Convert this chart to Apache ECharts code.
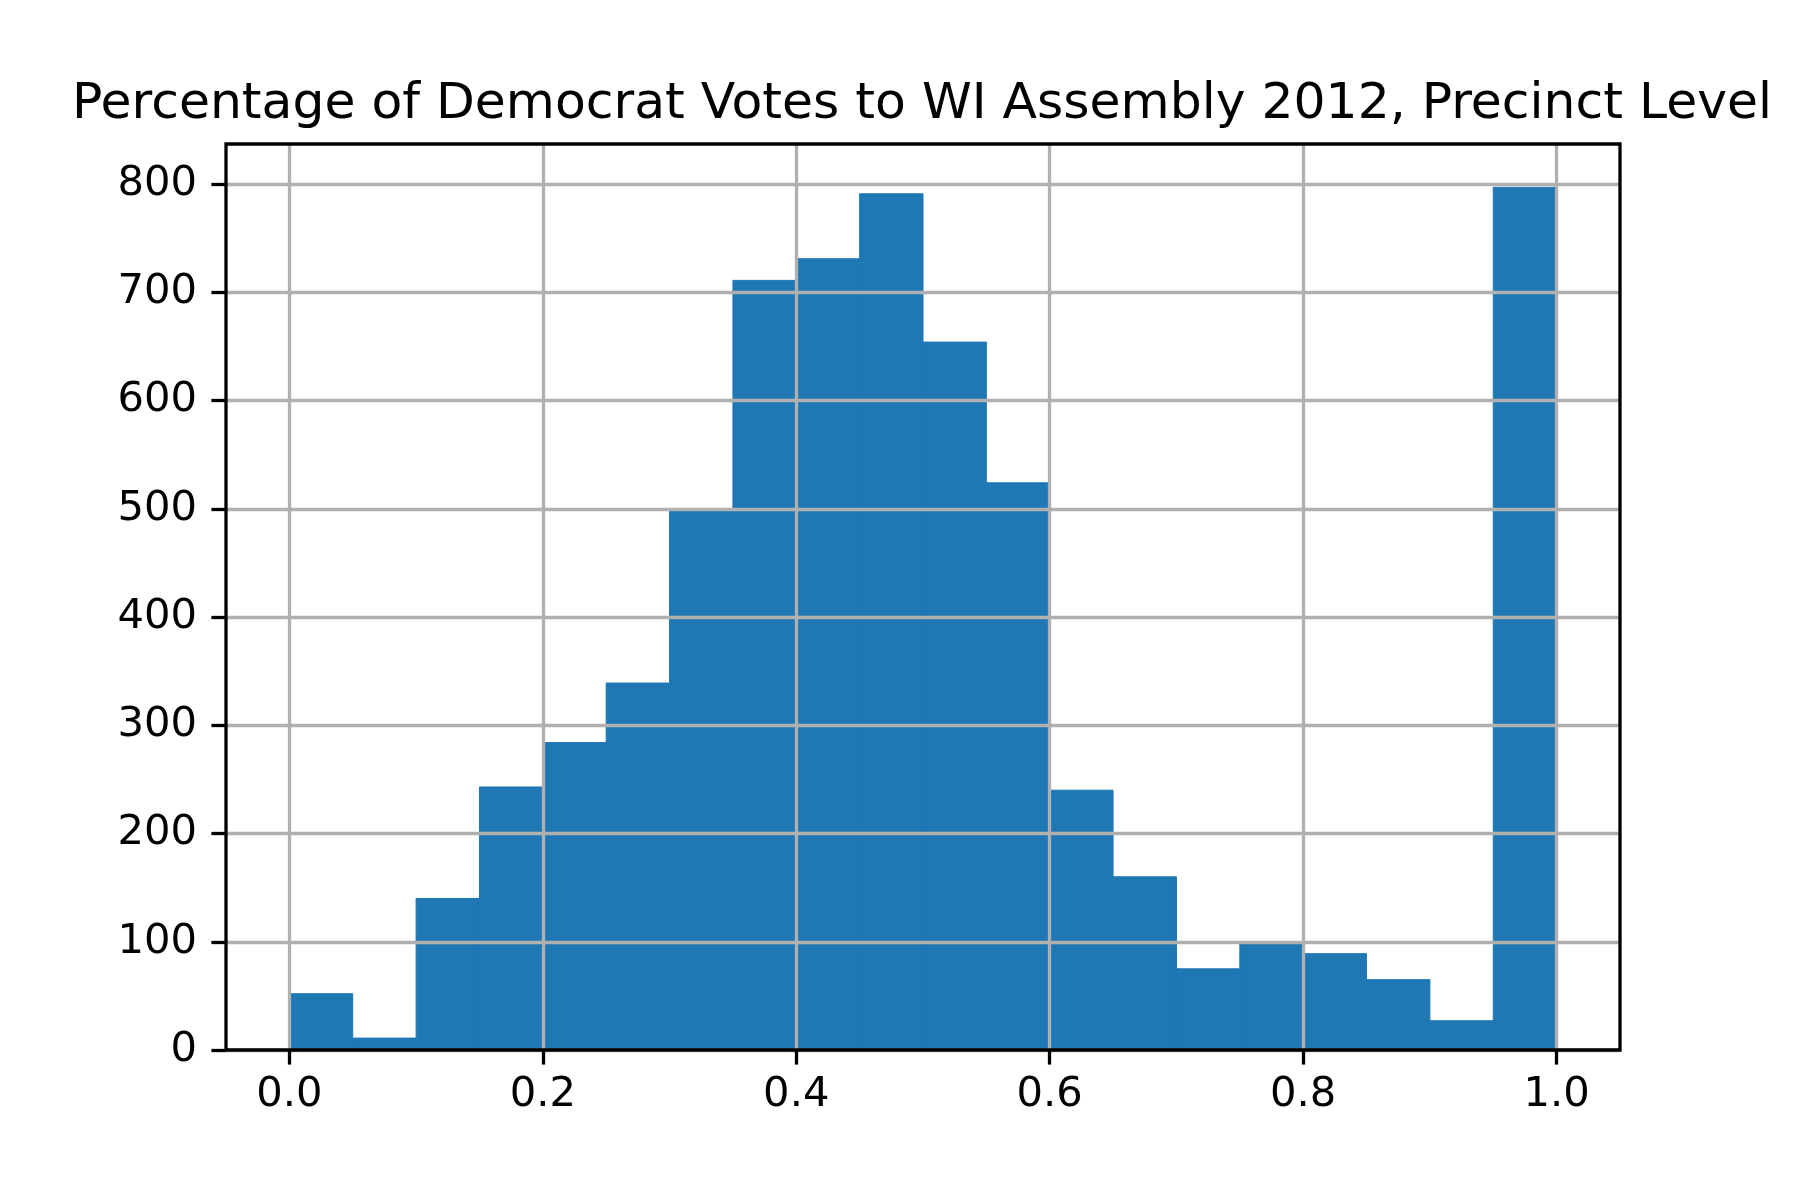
<!DOCTYPE html>
<html>
<head>
<meta charset="utf-8">
<title>Percentage of Democrat Votes to WI Assembly 2012, Precinct Level</title>
<script src="https://cdn.jsdelivr.net/npm/echarts@6/dist/echarts.min.js"></script>
<style>
  html, body { margin: 0; padding: 0; background: #fff; }
  #chart { width: 1800px; height: 1200px; }
</style>
</head>
<body>
<div id="chart"></div>
<script>
// histogram bins: 20 bins of width 0.05 from 0 to 1
var binEdges = [0.00, 0.05, 0.10, 0.15, 0.20, 0.25, 0.30, 0.35, 0.40, 0.45, 0.50,
                0.55, 0.60, 0.65, 0.70, 0.75, 0.80, 0.85, 0.90, 0.95, 1.00];
var counts = [52, 11, 140, 243, 284, 339, 499, 711, 731, 791,
              654, 524, 240, 160, 75, 98, 89, 65, 27, 797];
var xTicks = [0.0, 0.2, 0.4, 0.6, 0.8, 1.0];
var yTicks = [0, 100, 200, 300, 400, 500, 600, 700, 800];

var titleText = 'Percentage of Democrat Votes to WI Assembly 2012, Precinct Level';

var barData = [];
for (var i = 0; i < counts.length; i++) {
    barData.push([binEdges[i], binEdges[i + 1], counts[i]]);
}

var font = 'DejaVu Sans';
var chart = echarts.init(document.getElementById('chart'));

var option = {
    backgroundColor: '#ffffff',
    animation: false,
    title: {
        text: titleText,
        left: 917,
        top: 75,
        textAlign: 'center',
        textStyle: {
            fontFamily: font,
            fontSize: 50.4,
            fontWeight: 'normal',
            color: '#000'
        }
    },
    grid: {
        left: 226,
        right: 180,
        top: 144,
        bottom: 150,
        show: true,
        z: 11, // border above the gridlines
        borderColor: '#000',
        borderWidth: 3.3,
        backgroundColor: 'transparent'
    },
    xAxis: {
        type: 'value',
        min: -0.05,
        max: 1.05,
        z: 10,
        axisLine: { show: false, onZero: false },
        axisTick: {
            show: true,
            length: 14.6,
            customValues: xTicks,
            lineStyle: { color: '#000', width: 3.3 }
        },
        axisLabel: {
            customValues: xTicks,
            margin: 24,
            fontFamily: font,
            fontSize: 41.7,
            color: '#000',
            formatter: function (v) { return v.toFixed(1); }
        },
        splitLine: {
            show: true,
            lineStyle: { color: '#b0b0b0', width: 3.3 }
        }
    },
    yAxis: {
        type: 'value',
        min: 0,
        max: 837,
        z: 10,
        axisLine: { show: false, onZero: false },
        axisTick: {
            show: true,
            length: 14.6,
            customValues: yTicks,
            lineStyle: { color: '#000', width: 3.3 }
        },
        axisLabel: {
            customValues: yTicks,
            margin: 29,
            fontFamily: font,
            fontSize: 41.7,
            color: '#000'
        },
        splitLine: {
            show: true,
            lineStyle: { color: '#b0b0b0', width: 3.3 }
        }
    },
    series: [{
        type: 'custom',
        z: 2,
        data: barData,
        encode: { x: [0, 1], y: 2 },
        renderItem: function (params, api) {
            var start = api.coord([api.value(0), api.value(2)]);
            var end = api.coord([api.value(1), 0]);
            return {
                type: 'rect',
                shape: {
                    x: start[0],
                    y: start[1],
                    width: end[0] - start[0],
                    height: end[1] - start[1]
                },
                style: { fill: '#1f77b4', stroke: '#1f77b4', lineWidth: 1 }
            };
        }
    }]
};

chart.setOption(option);
window.addEventListener('resize', function () {
    chart.resize();
});
</script>
</body>
</html>
